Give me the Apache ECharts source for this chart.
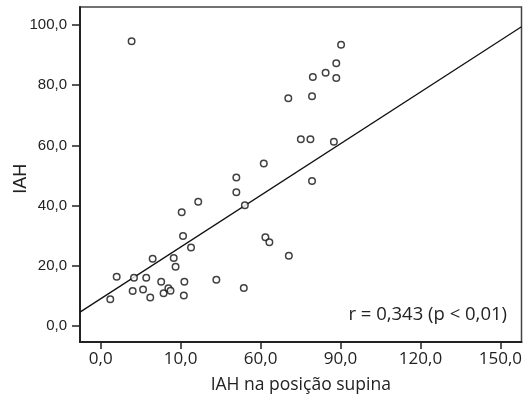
<!DOCTYPE html>
<html>
<head>
<meta charset="utf-8">
<script src="https://cdn.jsdelivr.net/npm/echarts@6/dist/echarts.min.js"></script>
<style>html,body{margin:0;padding:0;background:#fff;}#c{width:528px;height:394px;}</style>
</head>
<body>
<div id="c"></div>
<script>
// Scatter data: IAH na posição supina (x) vs IAH (y)
const pointsX = [11.6, 90.2, 88.4, 84.4, 79.6, 88.4, 70.4, 79.3, 75.1, 78.7, 87.5, 61.2, 79.3, 50.9, 50.9, 54.1, 36.6, 30.4, 30.9, 33.9, 19.5, 27.4, 28.1, 6.0, 12.5, 17.1, 22.7, 31.4, 43.4, 12.0, 15.9, 18.6, 3.6, 23.6, 25.4, 26.2, 31.2, 53.7, 61.8, 63.3, 70.6];
const pointsY = [94.6, 93.4, 87.3, 84.1, 82.7, 82.4, 75.7, 76.3, 62.0, 62.0, 61.2, 54.0, 48.2, 49.3, 44.4, 40.1, 41.3, 37.8, 29.9, 26.1, 22.3, 22.6, 19.7, 16.4, 16.0, 16.0, 14.7, 14.7, 15.4, 11.6, 12.1, 9.5, 8.9, 10.9, 12.5, 11.7, 10.1, 12.6, 29.5, 27.8, 23.3];
// Regression line endpoints
const lineX = [-7.76, 157.9];
const lineY = [4.6, 99.4];
// Axis ticks
const xTickValues = [0, 30, 60, 90, 120, 150];
const xTickLabels = ["0,0", "10,0", "60,0", "90,0", "120,0", "150,0"];
const yTickValues = [0, 20, 40, 60, 80, 100];
const yTickLabels = ["0,0", "20,0", "40,0", "60,0", "80,0", "100,0"];
const xTitle = "IAH na posição supina";
const yTitle = "IAH";
const annotation = "r = 0,343 (p < 0,01)";

const scatterData = pointsX.map((x, i) => [x, pointsY[i]]);
const lineData = lineX.map((x, i) => [x, lineY[i]]);
const xLabelMap = {}; xTickValues.forEach((v, i) => xLabelMap[v] = xTickLabels[i]);
const yLabelMap = {}; yTickValues.forEach((v, i) => yLabelMap[v] = yTickLabels[i]);

const chart = echarts.init(document.getElementById('c'), null, {renderer: 'canvas'});
chart.setOption({
  animation: false,
  backgroundColor: '#fff',
  grid: {left: 80, right: 6.5, top: 7, bottom: 52, show: true, borderColor: '#444', borderWidth: 1.5, backgroundColor: 'transparent', containLabel: false, outerBoundsMode: 'none'},
  xAxis: {
    type: 'value', min: -7.76, max: 157.9,
    name: xTitle, nameLocation: 'middle', nameGap: 34,
    nameTextStyle: {fontFamily: 'Open Sans', fontSize: 17.5, color: '#222'},
    axisLine: {show: true, onZero: false, lineStyle: {color: '#222', width: 2}},
    axisTick: {show: true, customValues: xTickValues, length: 7, lineStyle: {color: '#222', width: 1.5}},
    axisLabel: {customValues: xTickValues, formatter: v => xLabelMap[v], margin: 9, fontFamily: 'Open Sans', fontSize: 17, color: '#222'},
    splitLine: {show: false}
  },
  yAxis: {
    type: 'value', min: -5.32, max: 105.98,
    axisLine: {show: true, onZero: false, lineStyle: {color: '#222', width: 2}},
    axisTick: {show: true, customValues: yTickValues, length: 8, lineStyle: {color: '#222', width: 1.5}},
    axisLabel: {customValues: yTickValues, formatter: v => yLabelMap[v], margin: 13, fontFamily: 'Liberation Sans', fontSize: 15, color: '#222'},
    splitLine: {show: false}
  },
  series: [
    {type: 'line', data: lineData, symbol: 'none', lineStyle: {color: '#111', width: 1.3}, z: 2},
    {type: 'scatter', data: scatterData, symbol: 'circle', symbolSize: 6.5,
     itemStyle: {color: '#fff', borderColor: '#111', borderWidth: 1.5}, z: 3}
  ],
  graphic: [
    {type: 'text', x: 507, y: 315,
     style: {text: annotation, fontFamily: 'Open Sans', fontSize: 18.5, fill: '#222', textAlign: 'right', textVerticalAlign: 'middle'}},
    {type: 'text', x: 21.5, y: 178.7, rotation: Math.PI / 2,
     style: {text: yTitle, fontFamily: 'Liberation Sans', fontSize: 18, fill: '#222', textAlign: 'center', textVerticalAlign: 'middle'}}
  ]
});
</script>
</body>
</html>
